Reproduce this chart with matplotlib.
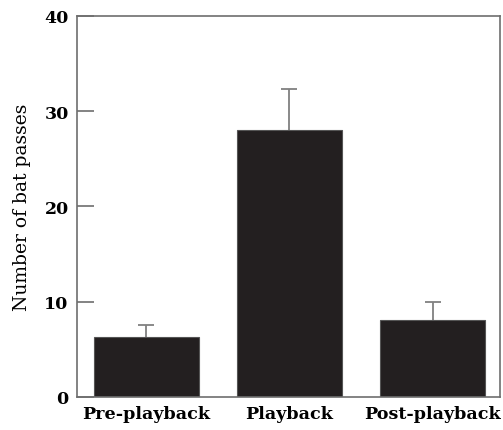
import matplotlib
matplotlib.use("Agg")
import matplotlib.pyplot as plt

categories = ["Pre-playback", "Playback", "Post-playback"]
means = [6.25, 28.0, 8.1]
upper_err = [1.3, 4.3, 1.9]
yticks = [0, 10, 20, 30, 40]

plt.rcParams["font.family"] = ["DejaVu Serif"]
axis_grey = "#6e6e6e"

fig = plt.figure(figsize=(5.03, 4.31), dpi=100)
ax = fig.add_axes([0.153, 0.0766, 0.841, 0.884])

x = range(len(categories))
ax.bar(x, means, width=0.735, color="#231f20", edgecolor="#555555", linewidth=0.8,
       zorder=2)
# one-sided (upper) error bars: drop the cap at the bar top
_, caps, _ = ax.errorbar(x, means, yerr=[[0] * len(means), upper_err], fmt="none",
                         ecolor="#808080", elinewidth=1.3, capsize=6,
                         capthick=1.3, zorder=1)
caps[0].set_visible(False)

ax.set_xlim(-0.483, 2.47)
ax.set_ylim(0, 40)
ax.set_yticks(yticks)
ax.set_yticklabels([str(t) for t in yticks], fontsize=12.5, fontweight="bold")
ax.set_xticks(list(x))
ax.set_xticklabels(categories, fontsize=12.6, fontweight="bold")
ax.tick_params(axis="y", direction="in", length=12, width=1.2, color=axis_grey,
               pad=6)
ax.tick_params(axis="x", length=0, pad=6)
ax.set_ylabel("Number of bat passes", fontsize=13.5)
ax.yaxis.set_label_coords(-0.108, 0.5)

for side in ["left", "right", "top", "bottom"]:
    ax.spines[side].set_color(axis_grey)
    ax.spines[side].set_linewidth(1.2)

fig.savefig("out.png", dpi=100)
